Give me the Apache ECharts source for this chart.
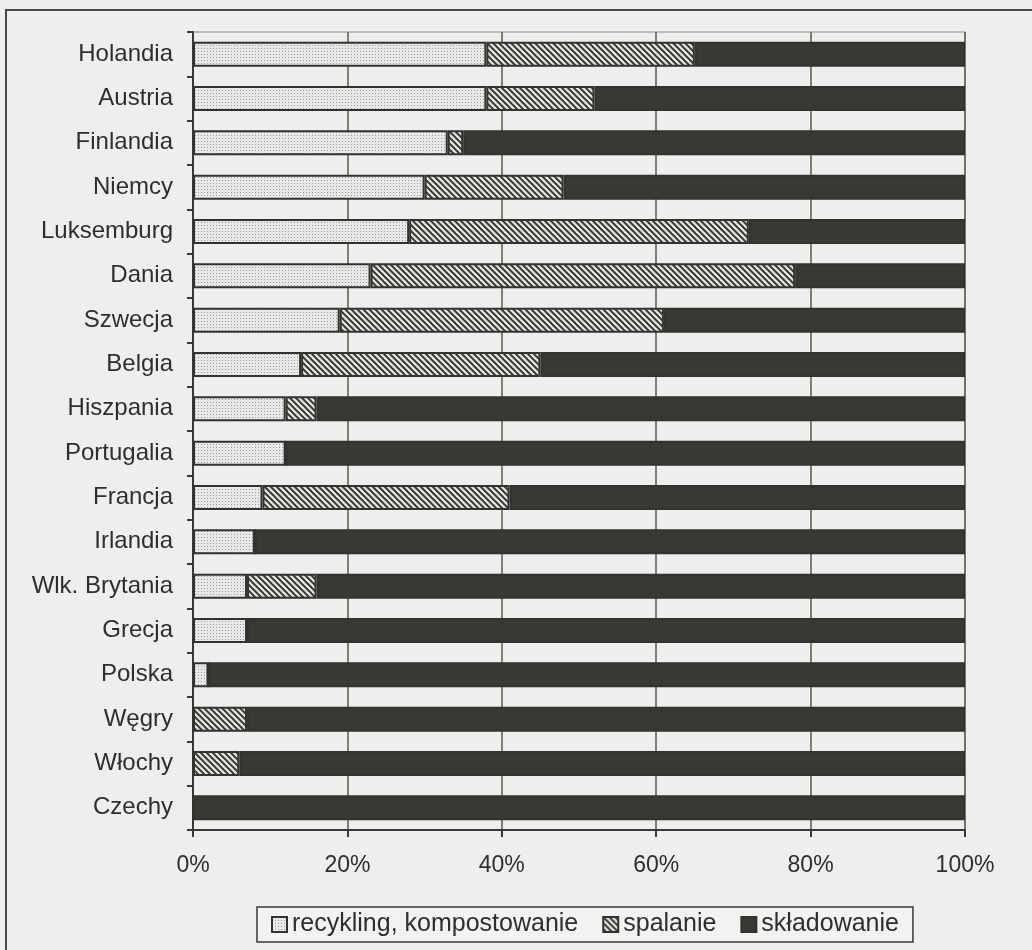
<!DOCTYPE html>
<html>
<head>
<meta charset="utf-8">
<script src="https://cdn.jsdelivr.net/npm/echarts@6/dist/echarts.min.js"></script>
<style>
  html, body { margin: 0; padding: 0; background: #eeeeec; }
  #chart { width: 1032px; height: 950px; }
</style>
</head>
<body>
<div id="chart"></div>
<script>
// Struktura postępowania z odpadami komunalnymi w krajach UE (%)
const countries = ['Holandia', 'Austria', 'Finlandia', 'Niemcy', 'Luksemburg', 'Dania', 'Szwecja',
  'Belgia', 'Hiszpania', 'Portugalia', 'Francja', 'Irlandia', 'Wlk. Brytania', 'Grecja',
  'Polska', 'Węgry', 'Włochy', 'Czechy'];
const recykling   = [38, 38, 33, 30, 28, 23, 19, 14, 12, 12,  9,  8,  7,  7,  2,  0,  0,   0];
const spalanie    = [27, 14,  2, 18, 44, 55, 42, 31,  4,  0, 32,  0,  9,  0,  0,  7,  6,   0];
const skladowanie = [35, 48, 65, 52, 28, 22, 39, 55, 84, 88, 59, 92, 84, 93, 98, 93, 94, 100];
const xTicks = [0, 20, 40, 60, 80, 100];
const seriesNames = ['recykling, kompostowanie', 'spalanie', 'składowanie'];

// fill patterns: fine dots and diagonal hatching
function dotPattern() {
  const c = document.createElement('canvas');
  c.width = 3; c.height = 3;
  const g = c.getContext('2d');
  g.fillStyle = '#e8e8e6';
  g.fillRect(0, 0, 3, 3);
  g.fillStyle = '#9c9c9a';
  g.fillRect(0, 0, 1, 1);
  return c;
}
function hatchPattern() {
  const s = 6;
  const c = document.createElement('canvas');
  c.width = s; c.height = s;
  const g = c.getContext('2d');
  g.fillStyle = '#e6e6e4';
  g.fillRect(0, 0, s, s);
  g.strokeStyle = '#3d3b38';
  g.lineWidth = 2;
  for (let k = -1; k <= 1; k++) {
    g.beginPath();
    g.moveTo(-1, s * k - 1);
    g.lineTo(s + 1, s * k + s + 1);
    g.stroke();
  }
  return c;
}

const font = '"Liberation Sans", Arial, sans-serif';
const chart = echarts.init(document.getElementById('chart'), null, { renderer: 'canvas' });

const barBase = { type: 'bar', stack: 'total', barWidth: 25 };
const border = { borderColor: '#333230', borderWidth: 2 };

chart.setOption({
  backgroundColor: '#eeeeec',
  animation: false,
  textStyle: { fontFamily: font, color: '#333' },
  graphic: [{
    type: 'rect',
    shape: { x: 6, y: 10, width: 1100, height: 1000 },
    style: { fill: 'none', stroke: '#4a4846', lineWidth: 2 },
    silent: true
  }],
  grid: {
    left: 193, right: 67, top: 32, bottom: 120,
    show: true, borderColor: '#8a8886', borderWidth: 1, backgroundColor: 'transparent'
  },
  legend: {
    left: 257, top: 907,
    padding: [5, 14],
    itemGap: 24,
    itemWidth: 15, itemHeight: 15,
    icon: 'rect',
    borderColor: '#3a3836', borderWidth: 1.5,
    backgroundColor: '#f2f2f0',
    textStyle: { fontFamily: font, fontSize: 25, color: '#2e2e2e' },
    data: seriesNames
  },
  xAxis: {
    type: 'value',
    min: 0, max: 100, interval: 20,
    axisLine: { show: true, lineStyle: { color: '#3a3836', width: 2 } },
    axisTick: { show: true, length: 7, lineStyle: { color: '#3a3836', width: 2 } },
    splitLine: { show: true, lineStyle: { color: '#5a5856', width: 1.5 } },
    axisLabel: {
      fontFamily: font, fontSize: 23, color: '#2e2e2e', margin: 24,
      formatter: v => xTicks.includes(v) ? v + '%' : ''
    }
  },
  yAxis: {
    type: 'category',
    inverse: true,
    data: countries,
    axisLine: { show: true, lineStyle: { color: '#3a3836', width: 2 } },
    axisTick: { show: true, length: 6, lineStyle: { color: '#3a3836', width: 2 } },
    axisLabel: { fontFamily: font, fontSize: 24, color: '#2e2e2e', margin: 20 }
  },
  series: [
    Object.assign({}, barBase, {
      name: seriesNames[0], data: recykling,
      itemStyle: Object.assign({ color: { image: dotPattern(), repeat: 'repeat' } }, border)
    }),
    Object.assign({}, barBase, {
      name: seriesNames[1], data: spalanie,
      itemStyle: Object.assign({ color: { image: hatchPattern(), repeat: 'repeat' } }, border)
    }),
    Object.assign({}, barBase, {
      name: seriesNames[2], data: skladowanie,
      itemStyle: Object.assign({ color: '#3a3835' }, border)
    })
  ]
});
</script>
</body>
</html>
